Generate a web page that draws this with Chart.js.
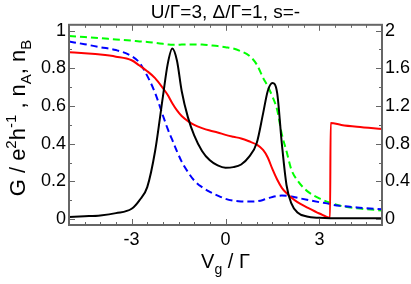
<!DOCTYPE html>
<html>
<head>
<meta charset="utf-8">
<script src="https://cdn.jsdelivr.net/npm/chart.js@4"></script>
<style>html,body{margin:0;padding:0;background:#fff}</style>
</head>
<body>
<canvas id="c" width="411" height="284"></canvas>
<script>
// gate voltage grid (Vg / Gamma), the red jump sits between 3.34 and 3.36
var vg     = [-5, -4.5, -4, -3.5, -3, -2.75, -2.5, -2.25, -2, -1.85, -1.7, -1.55, -1.4, -1.2, -1, -0.75, -0.5, -0.25, 0, 0.25, 0.5, 0.75, 1, 1.2, 1.35, 1.5, 1.65, 1.8, 1.95, 2.1, 2.3, 2.6, 3, 3.34, 3.36, 3.7, 4.2, 5];
var cond   = [0.011, 0.015, 0.02, 0.032, 0.055, 0.1, 0.17, 0.36, 0.65, 0.82, 0.905, 0.84, 0.68, 0.54, 0.445, 0.362, 0.312, 0.285, 0.273, 0.276, 0.29, 0.33, 0.405, 0.56, 0.68, 0.722, 0.67, 0.4, 0.18, 0.085, 0.035, 0.014, 0.007, 0.005, 0.005, 0.005, 0.005, 0.005];
var nRed   = [0.886, 0.88, 0.873, 0.862, 0.843, 0.815, 0.785, 0.748, 0.695, 0.66, 0.615, 0.577, 0.547, 0.52, 0.5, 0.483, 0.47, 0.46, 0.447, 0.437, 0.428, 0.413, 0.395, 0.367, 0.327, 0.265, 0.21, 0.166, 0.138, 0.115, 0.09, 0.063, 0.03, 0.008, 0.51, 0.5, 0.49, 0.478];
var nBlue  = [0.942, 0.928, 0.912, 0.897, 0.865, 0.83, 0.76, 0.67, 0.55, 0.48, 0.42, 0.36, 0.305, 0.25, 0.205, 0.17, 0.145, 0.125, 0.108, 0.098, 0.094, 0.093, 0.095, 0.102, 0.11, 0.118, 0.123, 0.125, 0.124, 0.12, 0.113, 0.103, 0.09, 0.08, 0.079, 0.07, 0.062, 0.052];
var nGreen = [0.972, 0.966, 0.96, 0.953, 0.947, 0.943, 0.94, 0.935, 0.93, 0.927, 0.925, 0.925, 0.926, 0.927, 0.927, 0.926, 0.922, 0.918, 0.912, 0.905, 0.89, 0.868, 0.82, 0.75, 0.705, 0.65, 0.58, 0.45, 0.36, 0.265, 0.205, 0.15, 0.11, 0.087, 0.086, 0.07, 0.058, 0.046];

var xTicks  = [-3, 0, 3];
var yTicks  = [0, 0.2, 0.4, 0.6, 0.8, 1];
var y2Ticks = [0, 0.4, 0.8, 1.2, 1.6, 2];

var FONT = '"Liberation Sans", Arial, Helvetica, sans-serif';

function pts(ys) {
    var out = [];
    for (var i = 0; i < vg.length; i++) out.push({x: vg[i], y: ys[i]});
    return out;
}

function line(ys, color, dash) {
    return {
        data: pts(ys),
        borderColor: color,
        borderWidth: 2,
        borderDash: dash || [],
        pointRadius: 0,
        fill: false,
        cubicInterpolationMode: 'monotone'
    };
}

// draws text made of normal / superscript / subscript pieces, centred on x
function richText(ctx, parts, x, y, size) {
    var small = Math.round(size * 0.68);
    var w = 0, i;
    for (i = 0; i < parts.length; i++) {
        ctx.font = (parts[i][1] ? small : size) + 'px ' + FONT;
        w += ctx.measureText(parts[i][0]).width;
    }
    var cx = x - w / 2;
    for (i = 0; i < parts.length; i++) {
        var mode = parts[i][1];
        ctx.font = (mode ? small : size) + 'px ' + FONT;
        var dy = mode === 1 ? -size * 0.42 : (mode === -1 ? size * 0.28 : 0);
        ctx.fillText(parts[i][0], cx, y + dy);
        cx += ctx.measureText(parts[i][0]).width;
    }
}

var frame = {
    id: 'frame',
    afterDatasetsDraw: function(chart) {
        var ctx = chart.ctx, a = chart.chartArea;
        var sx = chart.scales.x, sy = chart.scales.y;
        var i, p, len;
        ctx.save();
        ctx.strokeStyle = '#666';
        ctx.lineWidth = 1;
        ctx.beginPath();
        for (i = -9; i <= 9; i++) {
            len = (i % 6 === 0) ? 6 : 3;
            p = Math.round(sx.getPixelForValue(i / 2)) + 0.5;
            ctx.moveTo(p, a.bottom); ctx.lineTo(p, a.bottom - len);
            ctx.moveTo(p, a.top); ctx.lineTo(p, a.top + len);
        }
        for (i = 0; i <= 10; i++) {
            len = (i % 2 === 0) ? 6 : 3;
            p = Math.round(sy.getPixelForValue(i / 10)) + 0.5;
            ctx.moveTo(a.left, p); ctx.lineTo(a.left + len, p);
            ctx.moveTo(a.right, p); ctx.lineTo(a.right - len, p);
        }
        ctx.stroke();
        ctx.lineWidth = 2;
        ctx.strokeRect(a.left, a.top, a.right - a.left, a.bottom - a.top);
        ctx.restore();
    },
    afterDraw: function(chart) {
        var ctx = chart.ctx, a = chart.chartArea;
        ctx.save();
        ctx.fillStyle = '#000';
        ctx.textBaseline = 'alphabetic';
        richText(ctx, [['V', 0], ['g', -1], [' / \u0393', 0]], (a.left + a.right) / 2, 268, 20);
        ctx.translate(25, 118);
        ctx.rotate(-Math.PI / 2);
        richText(ctx, [['G / e', 0], ['2', 1], ['h', 0], ['-1', 1], [' , n', 0], ['A', -1], [', n', 0], ['B', -1]], 0, 0, 22);
        ctx.restore();
    }
};

function setTicks(list) {
    return function(scale) {
        scale.ticks = list.map(function(v) { return {value: v}; });
    };
}

new Chart(document.getElementById('c'), {
    type: 'line',
    data: {
        datasets: [
            line(cond, '#000000'),
            line(nRed, '#ff0000'),
            line(nBlue, '#0000ff', [7, 4]),
            line(nGreen, '#00ff00', [7, 4])
        ]
    },
    options: {
        responsive: false,
        animation: false,
        devicePixelRatio: 1,
        layout: {padding: 0},
        plugins: {
            legend: {display: false},
            tooltip: {enabled: false},
            title: {
                display: true,
                text: 'U/\u0393=3, \u0394/\u0393=1, s=-',
                color: '#000',
                font: {size: 19, family: FONT, weight: 'normal'},
                padding: {top: 1, bottom: 1},
                fullSize: false
            }
        },
        scales: {
            x: {
                type: 'linear', min: -5, max: 5,
                afterBuildTicks: setTicks(xTicks),
                afterFit: function(s) { s.height = 59; },
                grid: {display: false, drawTicks: false},
                border: {display: false},
                ticks: {color: '#000', padding: 4, maxRotation: 0, font: {size: 18, family: FONT},
                    callback: function(v) { return String(v); }}
            },
            y: {
                type: 'linear', position: 'left', min: -0.031, max: 1.031,
                afterBuildTicks: setTicks(yTicks),
                afterFit: function(s) { s.width = 69; },
                grid: {display: false, drawTicks: false},
                border: {display: false},
                ticks: {color: '#000', padding: 3, font: {size: 18, family: FONT},
                    callback: function(v) { return String(v); }}
            },
            y2: {
                type: 'linear', position: 'right', min: -0.062, max: 2.062,
                afterBuildTicks: setTicks(y2Ticks),
                afterFit: function(s) { s.width = 29; },
                grid: {display: false, drawTicks: false},
                border: {display: false},
                ticks: {color: '#000', padding: 3, font: {size: 18, family: FONT},
                    callback: function(v) { return String(v); }}
            }
        }
    },
    plugins: [frame]
});
</script>
</body>
</html>
